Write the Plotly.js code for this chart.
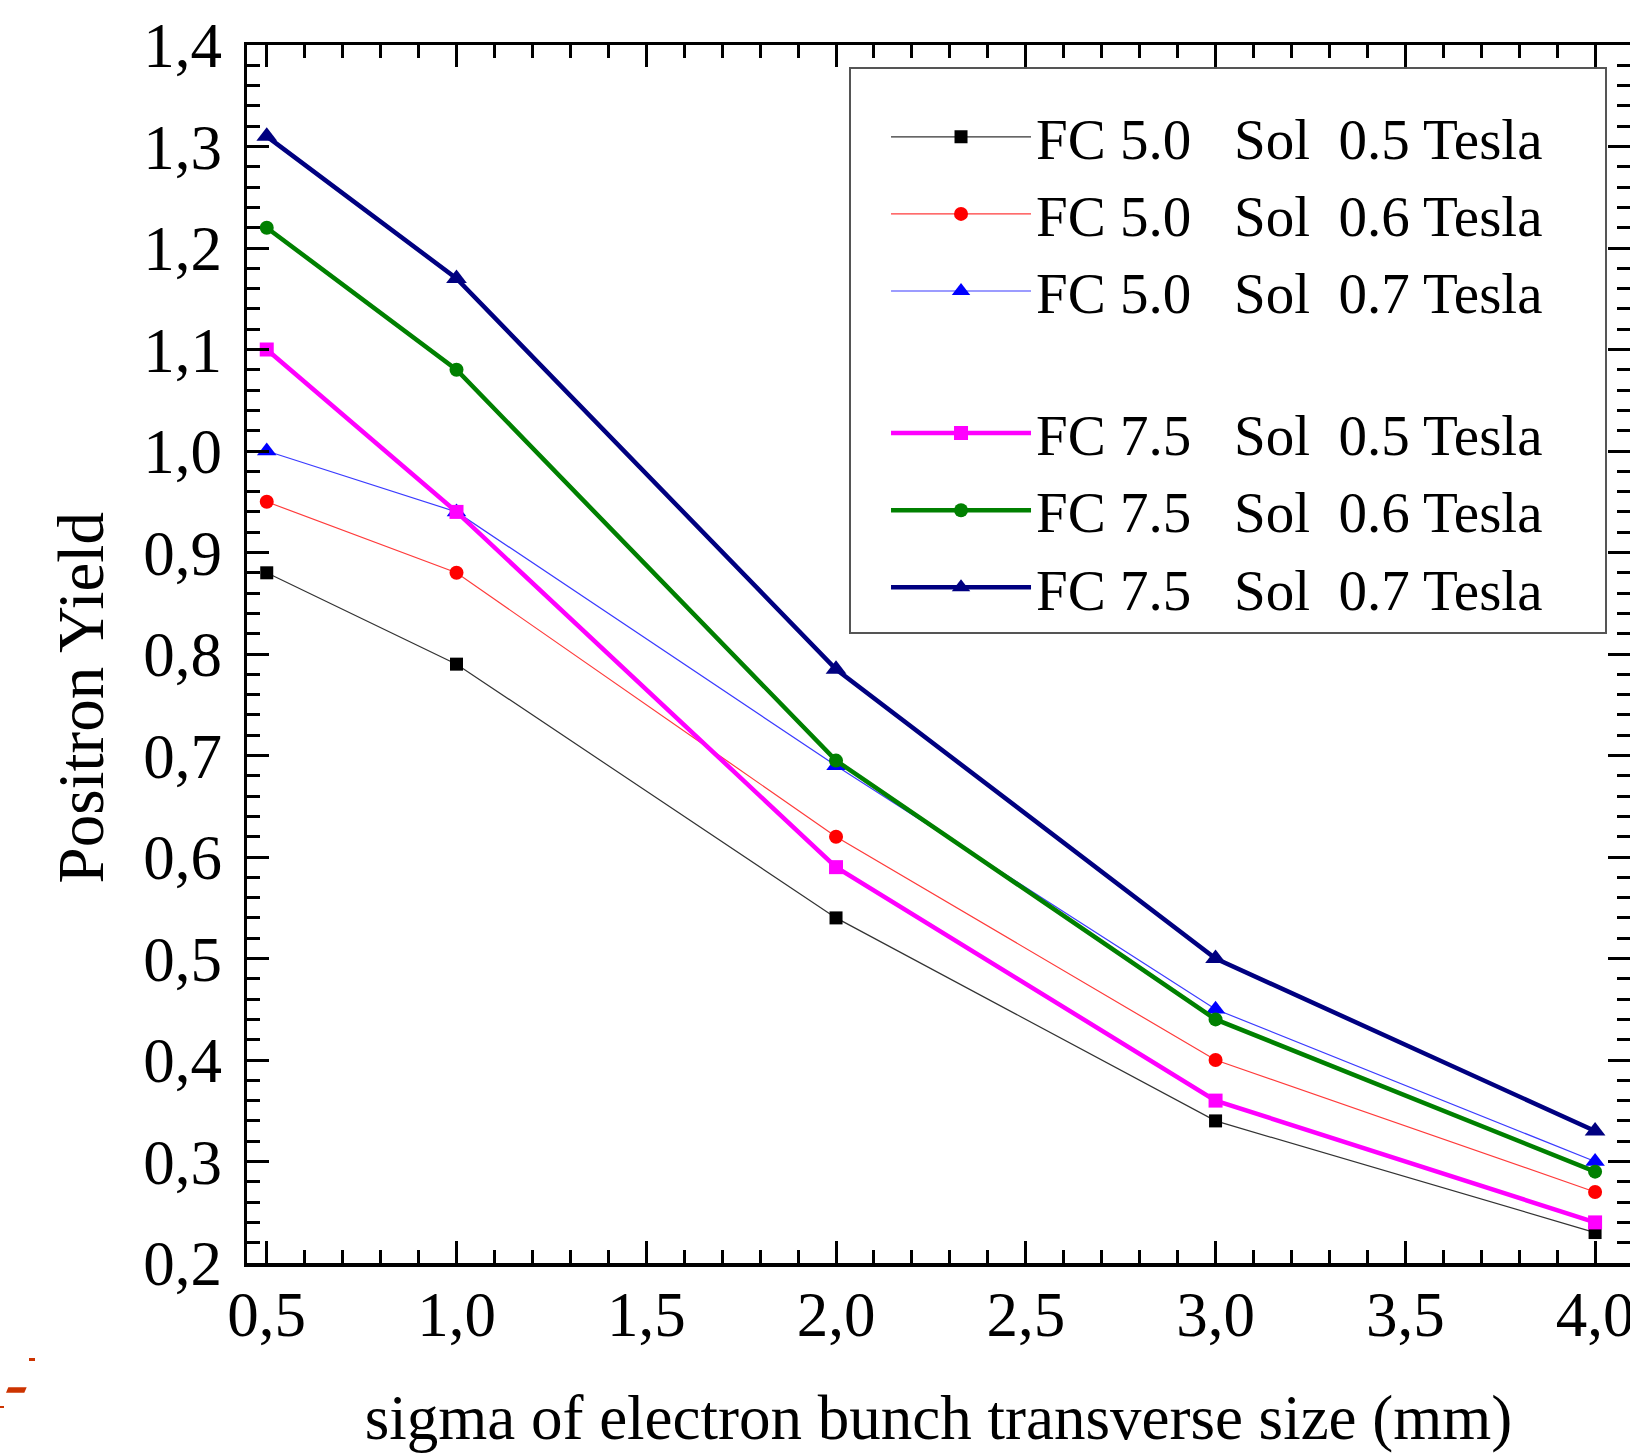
<!DOCTYPE html>
<html>
<head>
<meta charset="utf-8">
<script src="https://cdn.plot.ly/plotly-3.0.1.min.js"></script>
<style>html,body{margin:0;padding:0;background:#fff;}#chart{width:1630px;height:1453px;}</style>
</head>
<body>
<div id="chart"></div>
<script>
// ---- data ----
const sigma = [0.5, 1.0, 2.0, 3.0, 4.0];
const fc50_sol05 = [0.88, 0.79, 0.54, 0.34, 0.23];
const fc50_sol06 = [0.95, 0.88, 0.62, 0.40, 0.27];
const fc50_sol07 = [1.00, 0.94, 0.69, 0.45, 0.30];
const fc75_sol05 = [1.10, 0.94, 0.59, 0.36, 0.24];
const fc75_sol06 = [1.22, 1.08, 0.695, 0.44, 0.29];
const fc75_sol07 = [1.31, 1.17, 0.785, 0.50, 0.33];
const seriesNames = [
  "FC 5.0   Sol  0.5 Tesla",
  "FC 5.0   Sol  0.6 Tesla",
  "FC 5.0   Sol  0.7 Tesla",
  "FC 7.5   Sol  0.5 Tesla",
  "FC 7.5   Sol  0.6 Tesla",
  "FC 7.5   Sol  0.7 Tesla"
];
const xTitle = "sigma of electron bunch transverse size (mm)";
const yTitle = "Positron Yield";

// ---- styles ----
const FONT = "Liberation Serif, Times New Roman, serif";
const nb = s => s.replace(/ {2,}/g, m => "\u00a0".repeat(m.length)) + "\u00a0\u00a0\u00a0\u00a0";
const styles = [
  {line: "#333333", marker: "#000000", w: 1.2, sym: "square", size: 13, group: "a"},
  {line: "#ff3b3b", marker: "#ff0000", w: 1.2, sym: "circle", size: 14, group: "a"},
  {line: "#3b3bff", marker: "#0000ff", w: 1.2, sym: "triangle-up", size: 17, group: "a"},
  {line: "#ff00ff", marker: "#ff00ff", w: 4.5, sym: "square", size: 14, group: "b"},
  {line: "#008000", marker: "#008000", w: 4.5, sym: "circle", size: 14, group: "b"},
  {line: "#000080", marker: "#000080", w: 4.5, sym: "triangle-up", size: 18, group: "b"}
];
const ys = [fc50_sol05, fc50_sol06, fc50_sol07, fc75_sol05, fc75_sol06, fc75_sol07];

const traces = ys.map((y, i) => ({
  type: "scatter",
  mode: "lines+markers",
  x: sigma,
  y: y,
  name: nb(seriesNames[i]),
  legendgroup: styles[i].group,
  line: {color: styles[i].line, width: styles[i].w},
  marker: {color: styles[i].marker, symbol: styles[i].sym, size: styles[i].size, line: {width: 0}}
}));

// small stray red marks at bottom-left (pixel offsets from plot origin)
const redMarks = [
  "M-218,-95 L-212,-95 L-212,-98 L-218,-98 Z",
  "M-238.7,-124.3 L-220.3,-124.3 L-222.7,-129.7 L-241,-129.7 Z",
  "M-247,-143 L-243,-143 L-243,-145 L-247,-145 Z"
];
const shapes = redMarks.map(p => ({
  type: "path", xref: "paper", yref: "paper",
  xsizemode: "pixel", ysizemode: "pixel", xanchor: 0, yanchor: 0,
  path: p, fillcolor: "#cc3300", line: {width: 0}
}));

const axisCommon = {
  showline: true, linecolor: "#000", linewidth: 3.5, mirror: "allticks",
  ticks: "inside", tickcolor: "#000", tickwidth: 3, ticklen: 22,
  showgrid: false, zeroline: false,
  tickfont: {family: FONT, size: 63, color: "#000"},
  tickformat: ".1f", ticklabeloverflow: "allow"
};

const layout = {
  width: 1630, height: 1453,
  paper_bgcolor: "#fff", plot_bgcolor: "#fff",
  separators: ",.",
  margin: {l: 247, r: 0, t: 45, b: 190, pad: 0},
  showlegend: true,
  xaxis: Object.assign({}, axisCommon, {
    range: [0.448, 4.092], dtick: 0.5, tick0: 0.5,
    minor: {dtick: 0.1, ticks: "inside", ticklen: 13, tickwidth: 3, tickcolor: "#000", showgrid: false},
    ticklabelstandoff: -6,
    title: {text: xTitle, font: {family: FONT, size: 63, color: "#000"}, standoff: 50}
  }),
  yaxis: Object.assign({}, axisCommon, {
    range: [0.2, 1.4], dtick: 0.1, tick0: 0.2,
    minor: {dtick: 0.02, ticks: "inside", ticklen: 13, tickwidth: 3, tickcolor: "#000", showgrid: false},
    ticklabelstandoff: 9
  }),
  annotations: [{
    text: yTitle, xref: "paper", yref: "paper", x: 0, y: 0.4635,
    xanchor: "center", yanchor: "middle", xshift: -166, textangle: -90,
    showarrow: false, font: {family: FONT, size: 65, color: "#000"}
  }],
  legend: {
    x: 0.4353, y: 0.9823, xanchor: "left", yanchor: "top",
    bgcolor: "#fff", bordercolor: "#555", borderwidth: 2,
    font: {family: FONT, size: 57, color: "#000"},
    title: {text: "\u00a0", font: {family: FONT, size: 19}},
    tracegroupgap: 65, itemwidth: 140, indentation: 35,
    traceorder: "grouped"
  },
  shapes: shapes
};

Plotly.newPlot("chart", traces, layout, {staticPlot: true, displayModeBar: false});
</script>
</body>
</html>
